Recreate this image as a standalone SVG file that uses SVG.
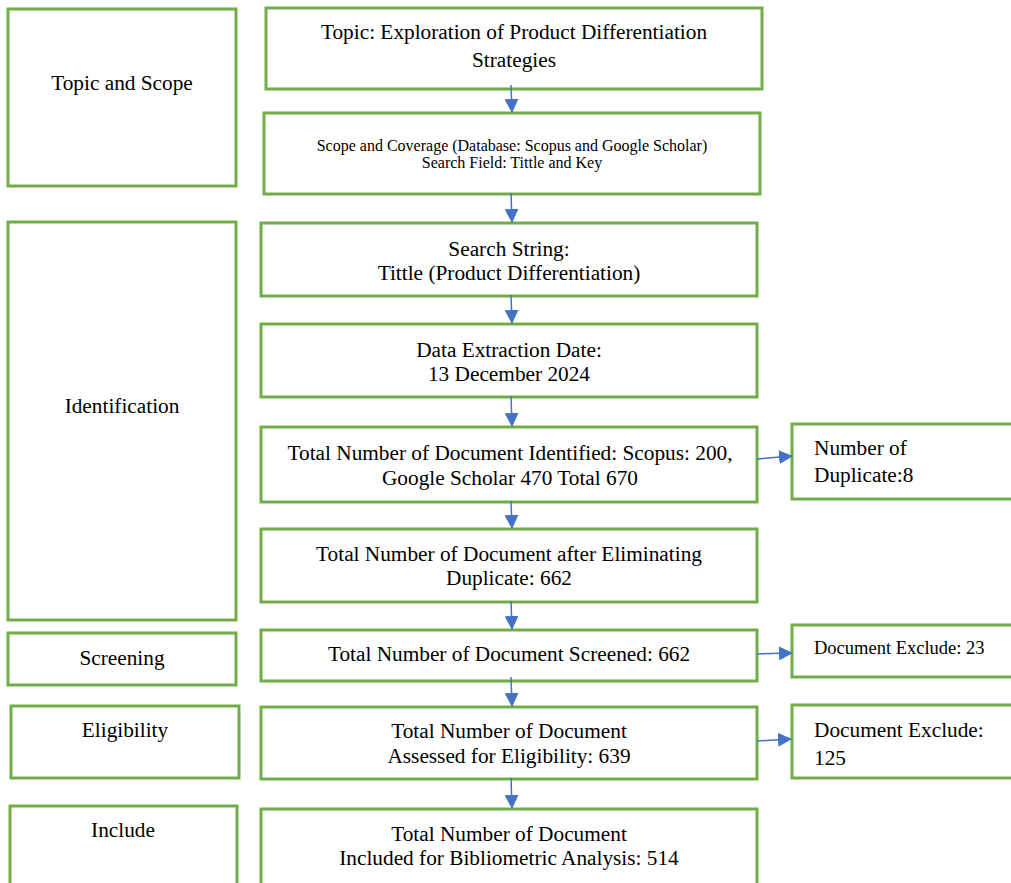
<svg xmlns="http://www.w3.org/2000/svg" width="1011" height="883" viewBox="0 0 1011 883">
<style>
.box{fill:#fff;stroke:#70AD47;stroke-width:3}
text{font-family:'Liberation Serif','Times New Roman',Times,serif;font-size:21.3px;fill:#000;text-anchor:middle}
text.s{font-size:16px}
text.l{text-anchor:start}
text.m{font-size:18.5px}
.c{stroke:#4472C4;stroke-width:1.5;fill:none}
</style>
<defs>
<marker id="ah2" markerWidth="14" markerHeight="14" refX="13" refY="7" orient="auto" markerUnits="userSpaceOnUse" viewBox="0 0 14 14">
<path d="M0,0 L14,7 L0,14 z" fill="#4472C4"/>
</marker>
</defs>
<g id="phase-topic"><rect class="box" x="8" y="9" width="228" height="177"/><text x="122" y="90">Topic and Scope</text></g>
<g id="phase-identification"><rect class="box" x="8" y="222" width="228" height="398"/><text x="122" y="413">Identification</text></g>
<g id="phase-screening"><rect class="box" x="8" y="633" width="228" height="52"/><text x="122" y="665">Screening</text></g>
<g id="phase-eligibility"><rect class="box" x="11" y="706" width="228" height="72"/><text x="125" y="737">Eligibility</text></g>
<g id="phase-include"><rect class="box" x="10" y="806" width="227" height="80"/><text x="123" y="837">Include</text></g>

<g id="topic"><rect class="box" x="266" y="8" width="496" height="81"/><text x="514" y="39">Topic: Exploration of Product Differentiation</text><text x="514" y="67">Strategies</text></g>
<g id="scope"><rect class="box" x="264" y="113" width="496" height="81"/><text class="s" x="512" y="151">Scope and Coverage (Database: Scopus and Google Scholar)</text><text class="s" x="512" y="168">Search Field: Tittle and Key</text></g>
<g id="search"><rect class="box" x="261" y="223" width="496" height="73"/><text x="509" y="256">Search String:</text><text x="509" y="280">Tittle (Product Differentiation)</text></g>
<g id="date"><rect class="box" x="261" y="324" width="496" height="73"/><text x="509" y="357">Data Extraction Date:</text><text x="509" y="381">13 December 2024</text></g>
<g id="identified"><rect class="box" x="261" y="427" width="496" height="75"/><text x="510" y="460">Total Number of Document Identified: Scopus: 200,</text><text x="510" y="485">Google Scholar 470 Total 670</text></g>
<g id="eliminated"><rect class="box" x="261" y="529" width="496" height="73"/><text x="509" y="561">Total Number of Document after Eliminating</text><text x="509" y="585">Duplicate: 662</text></g>
<g id="screened"><rect class="box" x="261" y="630" width="496" height="51"/><text x="509" y="661">Total Number of Document Screened: 662</text></g>
<g id="assessed"><rect class="box" x="261" y="707" width="496" height="72"/><text x="509" y="738">Total Number of Document</text><text x="509" y="763">Assessed for Eligibility: 639</text></g>
<g id="included"><rect class="box" x="261" y="809" width="496" height="80"/><text x="509" y="841">Total Number of Document</text><text x="509" y="865">Included for Bibliometric Analysis: 514</text></g>

<g id="duplicate"><rect class="box" x="792" y="424" width="222" height="75"/><text class="l" x="814" y="455">Number of</text><text class="l" x="814" y="482">Duplicate:8</text></g>
<g id="exclude23"><rect class="box" x="792" y="625" width="222" height="52"/><text class="l m" x="814" y="654">Document Exclude: 23</text></g>
<g id="exclude125"><rect class="box" x="792" y="705" width="222" height="73"/><text class="l" x="814" y="737">Document Exclude:</text><text class="l" x="814" y="765">125</text></g>

<g id="connectors">
<line class="c" x1="511" y1="85" x2="512" y2="112" marker-end="url(#ah2)"/>
<line class="c" x1="511" y1="193" x2="512" y2="222" marker-end="url(#ah2)"/>
<line class="c" x1="511" y1="295" x2="512" y2="323" marker-end="url(#ah2)"/>
<line class="c" x1="511" y1="396" x2="512" y2="426" marker-end="url(#ah2)"/>
<line class="c" x1="511" y1="501" x2="512" y2="528" marker-end="url(#ah2)"/>
<line class="c" x1="511" y1="601" x2="512" y2="629" marker-end="url(#ah2)"/>
<line class="c" x1="511" y1="677" x2="512" y2="706" marker-end="url(#ah2)"/>
<line class="c" x1="511" y1="778" x2="512" y2="808" marker-end="url(#ah2)"/>
<line class="c" x1="757" y1="459" x2="792" y2="456" marker-end="url(#ah2)"/>
<line class="c" x1="757" y1="654" x2="792" y2="653" marker-end="url(#ah2)"/>
<line class="c" x1="757" y1="741" x2="791" y2="739" marker-end="url(#ah2)"/>
</g>
</svg>
